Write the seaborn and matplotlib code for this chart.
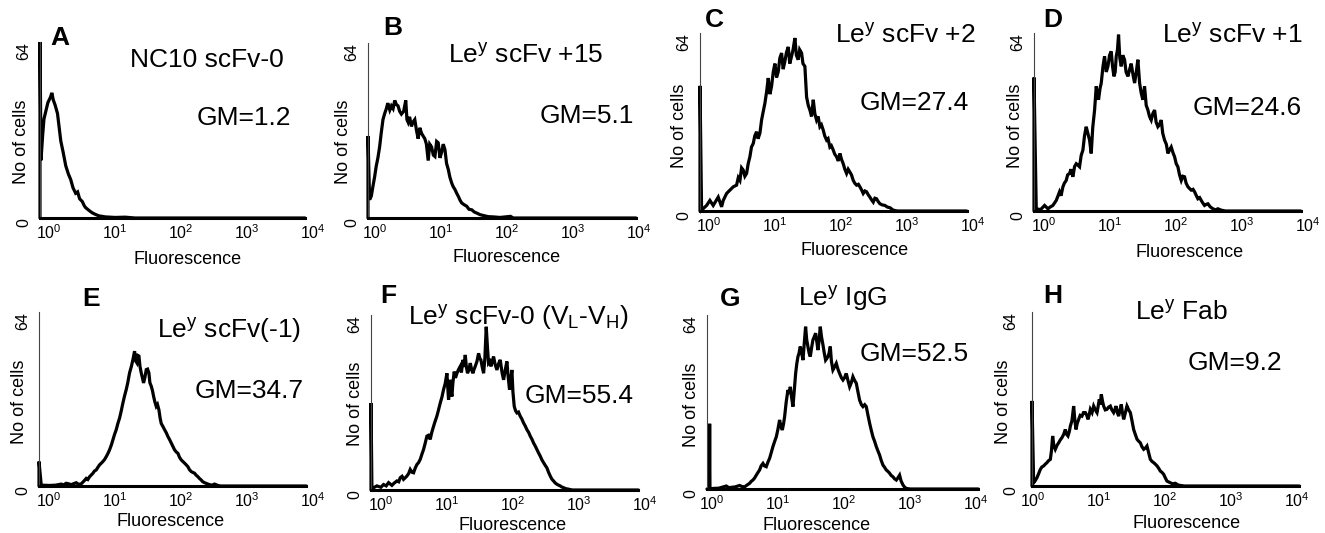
import numpy as np
import pandas as pd
import matplotlib
matplotlib.use("Agg")
import matplotlib.pyplot as plt
import seaborn as sns
from matplotlib.ticker import LogLocator, NullFormatter, FixedLocator

# ---------------- data (log10 fluorescence channel position, cell counts) ----------------
panel_letters = ["A", "B", "C", "D", "E", "F", "G", "H"]
panel_titles = [
    "NC10 scFv-0",
    r"Le$^{\mathdefault{y}}$ scFv +15",
    r"Le$^{\mathdefault{y}}$ scFv +2",
    r"Le$^{\mathdefault{y}}$ scFv +1",
    r"Le$^{\mathdefault{y}}$ scFv(-1)",
    r"Le$^{\mathdefault{y}}$ scFv-0 (V$_{\mathdefault{L}}$-V$_{\mathdefault{H}}$)",
    r"Le$^{\mathdefault{y}}$ IgG",
    r"Le$^{\mathdefault{y}}$ Fab",
]
gm_labels = ["GM=1.2", "GM=5.1", "GM=27.4", "GM=24.6", "GM=34.7", "GM=55.4", "GM=52.5", "GM=9.2"]
x_tick_decades = [0, 1, 2, 3, 4]
y_tick_values = [0, 64]
y_tick_labels = ["0", "64"]

a_decade = [-0.14, -0.14, -0.125, -0.10, -0.08, -0.05, -0.02, 0.02, 0.04, 0.06,
            0.09, 0.125, 0.15, 0.175, 0.21, 0.25, 0.29, 0.325, 0.36, 0.40,
            0.43, 0.46, 0.50, 0.53, 0.55, 0.60, 0.65, 0.70, 0.75, 0.85,
            1.00, 1.15, 1.30, 3.875]
a_count = [0, 64, 21, 30, 36, 39, 42, 44, 45.5, 43,
           41, 38, 33, 28, 24, 19, 16, 14, 11, 9,
           9.5, 7, 6, 4.5, 3.8, 2.8, 1.9, 1.3, 0.8, 0.4,
           0.2, 0.3, 0, 0]

b_decade = [-0.10, -0.10, -0.076, -0.05, -0.025, 0.0, 0.025, 0.05, 0.076, 0.10,
            0.127, 0.15, 0.178, 0.20, 0.23, 0.254, 0.28, 0.305, 0.33, 0.355,
            0.38, 0.406, 0.44, 0.472, 0.49, 0.508, 0.53, 0.558, 0.58, 0.609,
            0.635, 0.66, 0.685, 0.711, 0.735, 0.761, 0.785, 0.812, 0.835, 0.863,
            0.89, 0.914, 0.94, 0.964, 0.99, 1.015, 1.04, 1.066, 1.09, 1.117,
            1.14, 1.168, 1.19, 1.218, 1.245, 1.269, 1.295, 1.32, 1.36, 1.396,
            1.43, 1.472, 1.51, 1.548, 1.60, 1.65, 1.72, 1.80, 1.90, 2.06,
            2.10, 3.96]
b_count = [0, 30, 6.7, 8, 11.6, 15, 19, 22, 26, 31,
           36, 38, 40, 42, 39.5, 41, 40, 43, 41.5, 41,
           39, 38, 39, 43, 36, 35, 37, 33.5, 35, 36,
           32, 29, 33, 31, 30, 29, 27, 21, 27, 26,
           23, 22.5, 28, 27.5, 22, 24, 27, 25, 20, 17.7,
           15, 12.8, 11.5, 10.4, 9, 7.9, 6.5, 5.5, 4.8, 4.3,
           3.2, 3, 2.2, 1.8, 1.2, 0.9, 0.5, 0.4, 0.2, 0.6,
           0, 0]

c_decade = [-0.14, -0.14, -0.116, -0.04, 0.01, 0.06, 0.136, 0.187, 0.212, 0.263,
            0.313, 0.364, 0.414, 0.44, 0.465, 0.49, 0.515, 0.54, 0.566, 0.59,
            0.616, 0.64, 0.667, 0.69, 0.717, 0.74, 0.768, 0.793, 0.82, 0.843,
            0.87, 0.894, 0.92, 0.944, 0.97, 0.995, 1.02, 1.045, 1.07, 1.096,
            1.12, 1.146, 1.17, 1.197, 1.22, 1.247, 1.27, 1.298, 1.32, 1.348,
            1.37, 1.399, 1.42, 1.449, 1.475, 1.50, 1.525, 1.55, 1.576, 1.60,
            1.626, 1.65, 1.677, 1.70, 1.727, 1.75, 1.778, 1.80, 1.828, 1.85,
            1.879, 1.90, 1.929, 1.955, 1.98, 2.005, 2.03, 2.055, 2.081, 2.105,
            2.131, 2.155, 2.182, 2.205, 2.232, 2.26, 2.283, 2.31, 2.333, 2.36,
            2.384, 2.41, 2.434, 2.46, 2.485, 2.51, 2.535, 2.56, 2.586, 2.62,
            2.662, 2.70, 2.737, 2.788, 2.85, 3.90]
c_count = [0, 45, 0.3, 2, 3.8, 2, 5, 1.5, 3.8, 6.3,
           7.5, 8.7, 9.3, 12, 11, 15.5, 14.7, 12.5, 13.5, 17,
           19.5, 23, 24.3, 27, 28.5, 26, 28, 32.7, 36, 38.7,
           43, 47.8, 42, 44.8, 50, 53, 48, 50, 55, 56.8,
           51, 53.8, 57, 59, 53, 55.6, 58, 62.2, 56, 54.4,
           58, 56.8, 53, 52, 41, 38, 36.3, 34, 40, 35,
           32.7, 34, 30.3, 31, 29.1, 27, 25.5, 26, 23, 23.5,
           21.9, 20.5, 19.5, 18, 20.7, 18.5, 17, 15, 13.5, 15,
           14, 13, 11, 10, 9.3, 9.6, 8.7, 7.5, 6.3, 7.2,
           6.9, 5.8, 5, 4, 3.2, 4.6, 4.4, 3.4, 2.6, 2.2,
           2, 1.4, 1.2, 0.3, 0, 0]

d_decade = [-0.15, -0.15, -0.116, -0.05, 0.01, 0.061, 0.10, 0.136, 0.187, 0.237,
            0.26, 0.288, 0.31, 0.338, 0.36, 0.389, 0.41, 0.439, 0.465, 0.49,
            0.515, 0.54, 0.565, 0.591, 0.615, 0.641, 0.665, 0.692, 0.717, 0.74,
            0.768, 0.793, 0.81, 0.828, 0.85, 0.869, 0.895, 0.919, 0.945, 0.97,
            0.995, 1.02, 1.04, 1.061, 1.08, 1.096, 1.115, 1.131, 1.15, 1.172,
            1.195, 1.222, 1.245, 1.273, 1.30, 1.323, 1.35, 1.374, 1.40, 1.424,
            1.45, 1.475, 1.50, 1.525, 1.55, 1.576, 1.60, 1.626, 1.65, 1.677,
            1.70, 1.727, 1.75, 1.778, 1.80, 1.828, 1.855, 1.879, 1.905, 1.929,
            1.955, 1.98, 2.005, 2.03, 2.055, 2.081, 2.105, 2.131, 2.155, 2.182,
            2.21, 2.232, 2.26, 2.283, 2.31, 2.333, 2.36, 2.384, 2.41, 2.434,
            2.46, 2.485, 2.52, 2.561, 2.60, 2.636, 2.687, 2.75, 3.89]
d_count = [0, 48, 0.8, 0.5, 2, 0.8, 1.5, 2, 3.8, 6.9,
           5.5, 8.7, 10, 11, 13, 13.5, 15, 12.3, 16, 17,
           16.5, 15.9, 20, 21.9, 27, 30.3, 28, 25.5, 20.7, 30,
           36.3, 44.8, 42, 40, 44, 46, 52, 55.6, 50, 52,
           56, 57.4, 52, 48.4, 50, 55.6, 58, 63.4, 55, 52,
           56, 54.4, 50, 48.4, 51, 53, 49, 46, 50, 54.4,
           46, 42.3, 40, 44.8, 38, 36.3, 34, 32.7, 35, 36.3,
           32, 30.3, 31, 32.7, 28, 25.5, 24, 20.7, 22, 23,
           21, 19.5, 17, 15.9, 13, 11, 12.5, 12.3, 10, 8.7,
           8, 7.5, 7.8, 6.9, 5.5, 4.4, 4.8, 3.8, 2.8, 2,
           2.4, 2.6, 1.5, 0.8, 0.4, 0.8, 0.3, 0, 0]

e_decade = [-0.15, -0.15, -0.116, 0.01, 0.10, 0.187, 0.22, 0.263, 0.30, 0.338,
            0.38, 0.414, 0.45, 0.49, 0.53, 0.566, 0.59, 0.616, 0.64, 0.667,
            0.69, 0.717, 0.74, 0.768, 0.79, 0.818, 0.845, 0.869, 0.895, 0.919,
            0.945, 0.97, 0.995, 1.02, 1.045, 1.071, 1.095, 1.121, 1.145, 1.172,
            1.195, 1.222, 1.25, 1.273, 1.298, 1.315, 1.333, 1.35, 1.364, 1.38,
            1.399, 1.415, 1.434, 1.455, 1.475, 1.495, 1.515, 1.53, 1.551, 1.57,
            1.586, 1.605, 1.626, 1.645, 1.667, 1.685, 1.702, 1.725, 1.753, 1.78,
            1.803, 1.83, 1.854, 1.88, 1.904, 1.93, 1.955, 1.98, 2.005, 2.03,
            2.056, 2.08, 2.106, 2.13, 2.157, 2.18, 2.207, 2.23, 2.258, 2.28,
            2.308, 2.33, 2.359, 2.40, 2.434, 2.47, 2.51, 2.561, 2.60, 3.90]
e_count = [0, 9, 0.3, 0.2, 0.3, 0.7, 0.4, 1, 0.8, 0.5,
           0.9, 1.2, 0.6, 0.8, 1.8, 2.8, 2.4, 3.4, 4, 4.7,
           5.5, 5.9, 6.8, 7.8, 8.3, 9, 9.8, 10.8, 12, 13.3,
           15, 17, 19, 20.7, 23, 25, 27.5, 30.5, 33, 35.5,
           38, 41.6, 44, 46.5, 49.6, 46, 45.3, 48, 47.8, 44,
           41.6, 40, 37.9, 40, 42.8, 43, 41.6, 38, 36.7, 35,
           33, 31, 29.3, 30, 28, 25, 23, 22, 20.7, 19.5,
           18.2, 17, 15.8, 14.5, 13.3, 12.5, 12, 10.5, 9.6, 9,
           8.4, 7.8, 7.1, 6, 5.3, 5, 4.7, 4, 3.4, 2.8,
           2.2, 1.6, 1.2, 0.8, 0.5, 0.3, 0.7, 0.2, 0, 0]

f_decade = [-0.15, -0.15, -0.136, -0.061, 0.0, 0.04, 0.08, 0.116, 0.167, 0.20,
            0.242, 0.27, 0.293, 0.32, 0.343, 0.37, 0.394, 0.42, 0.444, 0.47,
            0.495, 0.52, 0.545, 0.57, 0.596, 0.62, 0.646, 0.67, 0.697, 0.72,
            0.747, 0.77, 0.798, 0.82, 0.848, 0.87, 0.899, 0.925, 0.949, 0.975,
            1.0, 1.012, 1.025, 1.04, 1.051, 1.065, 1.076, 1.09, 1.111, 1.13,
            1.152, 1.175, 1.202, 1.22, 1.242, 1.26, 1.278, 1.295, 1.313, 1.333,
            1.354, 1.375, 1.394, 1.41, 1.429, 1.455, 1.48, 1.50, 1.515, 1.535,
            1.556, 1.575, 1.596, 1.615, 1.631, 1.65, 1.667, 1.685, 1.707, 1.73,
            1.758, 1.78, 1.808, 1.835, 1.859, 1.885, 1.909, 1.93, 1.949, 1.965,
            1.985, 2.0, 2.02, 2.04, 2.061, 2.085, 2.111, 2.135, 2.162, 2.185,
            2.212, 2.24, 2.263, 2.29, 2.313, 2.34, 2.364, 2.39, 2.414, 2.44,
            2.465, 2.49, 2.515, 2.54, 2.566, 2.59, 2.616, 2.64, 2.667, 2.69,
            2.717, 2.74, 2.768, 2.80, 2.843, 2.90, 3.90]
f_count = [0, 31.8, 0.5, 1.5, 1, 2, 1.5, 2.7, 1.7, 2.5,
           3.3, 3, 4.5, 5, 3.9, 4.5, 5.1, 6, 7.5, 6.5,
           6.3, 8, 9.3, 10, 11.2, 13, 14.8, 17, 19.7, 20,
           18.5, 21, 23.3, 25, 27, 29, 31.8, 34, 36.7, 39,
           42.7, 38, 33, 37, 40.3, 36, 34.2, 39, 43.3, 41,
           42.7, 44, 45.2, 43, 47.6, 45, 49.4, 45, 42.7, 44,
           46.4, 44, 42.7, 44, 45.2, 47, 50, 48, 47.6, 45,
           42.7, 48, 59.7, 52, 46.4, 47, 45.2, 47, 48.8, 46,
           43.9, 46, 47.6, 43, 40.3, 44, 47, 41, 36.7, 40,
           43.9, 36, 30.6, 29, 28.2, 28.5, 27, 26, 24.5, 23.5,
           22.1, 21, 19.7, 18.5, 17.2, 16, 14.8, 13.5, 12.4, 11,
           10, 9, 8.1, 6.5, 5.1, 4, 3.3, 2.6, 2.1, 1.8,
           1.5, 1.1, 0.85, 0.5, 0.3, 0, 0]

g_decade = [-0.08, -0.045, -0.04, -0.035, 0.01, 0.10, 0.212, 0.25, 0.288, 0.35,
            0.414, 0.45, 0.49, 0.53, 0.566, 0.59, 0.616, 0.64, 0.667, 0.69,
            0.717, 0.74, 0.768, 0.79, 0.818, 0.845, 0.869, 0.895, 0.919, 0.945,
            0.97, 0.995, 1.02, 1.04, 1.061, 1.08, 1.096, 1.12, 1.146, 1.165,
            1.182, 1.20, 1.222, 1.245, 1.263, 1.28, 1.298, 1.315, 1.333, 1.355,
            1.374, 1.395, 1.414, 1.43, 1.449, 1.467, 1.485, 1.505, 1.525, 1.545,
            1.566, 1.585, 1.601, 1.62, 1.636, 1.655, 1.677, 1.697, 1.717, 1.735,
            1.753, 1.77, 1.788, 1.805, 1.828, 1.855, 1.879, 1.905, 1.929, 1.955,
            1.98, 2.005, 2.03, 2.055, 2.081, 2.105, 2.131, 2.155, 2.182, 2.205,
            2.232, 2.26, 2.283, 2.31, 2.333, 2.36, 2.384, 2.41, 2.434, 2.46,
            2.485, 2.51, 2.535, 2.56, 2.586, 2.61, 2.636, 2.66, 2.687, 2.71,
            2.737, 2.76, 2.788, 2.81, 2.838, 2.86, 2.889, 2.91, 2.939, 3.0,
            4.03]
g_count = [0, 0, 24, 0, 0.2, 0.3, 1.1, 0.5, 0.6, 0.8,
           1.3, 0.9, 0.8, 1.5, 2.1, 2.8, 3.3, 4, 5.1, 6,
           7, 8.5, 9.4, 8.5, 8.2, 10, 11.3, 13.5, 15.6, 17.5,
           19.2, 22, 25.4, 23, 21.7, 24, 26.6, 32, 36.4, 35,
           37.6, 34, 30.3, 37, 42.5, 46, 48.7, 50, 52.4, 50,
           47.4, 54, 59.7, 55, 52.4, 50, 48.7, 52, 54.8, 56,
           57.3, 54, 51.1, 55, 59.7, 56, 53, 50, 47.4, 48,
           48.7, 50, 52.4, 47, 43.8, 45, 46.2, 44, 42.5, 41,
           40.1, 41, 42.5, 40, 37.6, 39, 41.3, 40, 38.9, 36,
           32.7, 31, 30.3, 31, 30.3, 27, 24.2, 21.5, 19.2, 17.5,
           15.6, 14, 12.5, 10.5, 8.8, 8, 7, 6.5, 5.8, 5,
           4.5, 3.8, 3.3, 4, 5.1, 3, 1.5, 0.8, 0.2, 0,
           0]

h_decade = [-0.01, -0.01, 0.015, 0.04, 0.066, 0.09, 0.116, 0.14, 0.167, 0.19,
            0.217, 0.24, 0.268, 0.285, 0.303, 0.32, 0.343, 0.37, 0.394, 0.42,
            0.444, 0.47, 0.495, 0.515, 0.535, 0.555, 0.571, 0.595, 0.621, 0.64,
            0.657, 0.675, 0.697, 0.72, 0.747, 0.77, 0.798, 0.82, 0.838, 0.855,
            0.874, 0.90, 0.924, 0.95, 0.975, 0.99, 1.01, 1.025, 1.04, 1.06,
            1.076, 1.10, 1.126, 1.15, 1.177, 1.20, 1.227, 1.245, 1.263, 1.283,
            1.303, 1.323, 1.343, 1.36, 1.379, 1.405, 1.429, 1.455, 1.48, 1.505,
            1.53, 1.555, 1.581, 1.605, 1.631, 1.655, 1.682, 1.71, 1.732, 1.76,
            1.783, 1.81, 1.833, 1.86, 1.884, 1.91, 1.934, 1.96, 1.985, 2.01,
            2.035, 2.06, 2.086, 2.12, 2.162, 2.20, 2.237, 2.30, 4.04]
h_count = [0, 31.3, 1.2, 2, 3.1, 4.5, 6.1, 7, 7.4, 8,
           8.6, 9.3, 9.8, 13, 18.4, 15, 13.5, 15, 15.9, 17,
           17.8, 19, 20.8, 19, 18.4, 20, 22, 24, 29.4, 24,
           20.8, 23, 24.5, 26, 25.7, 27, 27, 26, 24.5, 26,
           28.2, 27, 29.4, 28, 27, 29, 31.9, 30, 33.7, 31,
           29.4, 28, 28.2, 29, 29.4, 28, 27, 28, 29.4, 27,
           25.7, 28, 30, 27, 24.5, 27, 29.4, 28, 27, 24,
           20.8, 19, 17.2, 16.5, 15.9, 14.5, 13.5, 14, 14.7, 12,
           9.8, 9, 8.6, 8, 7.4, 6.5, 5.5, 5, 4.3, 3,
           1.8, 1.5, 1.2, 0.8, 1, 0.4, 0.2, 0, 0]

decades = [a_decade, b_decade, c_decade, d_decade, e_decade, f_decade, g_decade, h_decade]
counts = [a_count, b_count, c_count, d_count, e_count, f_count, g_count, h_count]

# ---------------- layout (pixels in a 1325x533 canvas) ----------------
W, H = 1325, 533
DEC_PX = 66.0
# left, top, bottom, xmin (decades), spine end (decades), y tick label pad
axes_geom = [
    (40, 42, 218, -0.14, 3.875, 6),
    (368, 43, 218, -0.10, 3.96, 6),
    (700, 33, 211, -0.14, 3.90, 6),
    (1034, 33, 211, -0.15, 3.89, 6),
    (39, 312, 486, -0.15, 3.90, 6),
    (371, 315, 490, -0.15, 3.90, 6),
    (707, 315, 489, -0.08, 4.03, 6),
    (1032, 312, 486, -0.01, 4.04, 10),
]
letter_xy = [(50, 45), (383, 35), (705, 27), (1043, 27), (82, 306), (380, 303), (720, 306), (1043, 303)]
title_xy = [(130, 67), (448, 63), (835, 43), (1162, 43), (157, 338), (408, 325), (798, 306), (1135, 320)]
gm_xy = [(197, 125), (540, 123), (860, 110), (1193, 115), (195, 398), (525, 403), (860, 361), (1188, 370)]
ylabel_xy = [(22, 142), (343, 142), (680, 126), (1015, 126), (20, 402), (355, 404), (692, 405), (1003, 402)]
xlabel_xy = [(188, 260), (507, 257), (855, 250), (1190, 252), (171, 521), (513, 526), (817, 526), (1187, 524)]

sns.set_theme(style="white")
plt.rcParams["font.family"] = ["Liberation Sans", "DejaVu Sans"]
plt.rcParams["mathtext.fontset"] = "custom"
plt.rcParams["mathtext.rm"] = "Liberation Sans"
plt.rcParams["mathtext.it"] = "Liberation Sans:italic"
plt.rcParams["mathtext.bf"] = "Liberation Sans:bold"

fig = plt.figure(figsize=(W / 100, H / 100), dpi=100)
fig.patch.set_facecolor("white")

for i in range(8):
    left, top, bottom, xmin, spine_end, ypad = axes_geom[i]
    xmax = max(4.0, spine_end)
    width = (xmax - xmin) * DEC_PX
    ax = fig.add_axes([left / W, 1 - bottom / H, width / W, (bottom - top) / H])
    ax.set_facecolor("white")
    df = pd.DataFrame({"Fluorescence": np.power(10.0, decades[i]), "No of cells": counts[i]})
    sns.lineplot(data=df, x="Fluorescence", y="No of cells", estimator=None, sort=False,
                 color="black", linewidth=2.3, ax=ax)
    for ln in ax.get_lines():
        ln.set_clip_on(False)
        ln.set_solid_joinstyle("miter")
    ax.set_xscale("log")
    ax.set_xlim(10 ** xmin, 10 ** xmax)
    ax.set_ylim(0, 64)

    ax.xaxis.set_major_locator(FixedLocator([10.0 ** d for d in x_tick_decades]))
    ax.xaxis.set_minor_locator(LogLocator(base=10, subs=np.arange(2, 10)))
    ax.xaxis.set_minor_formatter(NullFormatter())
    ax.tick_params(axis="x", which="major", labelsize=11.5, length=3, width=0.8,
                   direction="inout", pad=2, colors="black")
    ax.tick_params(axis="x", which="minor", length=2.5, width=0.6, direction="inout", colors="black")

    ax.set_yticks(y_tick_values)
    ax.set_yticklabels(y_tick_labels, rotation=90, va="top")
    ax.yaxis.set_minor_locator(FixedLocator([16, 32, 48]))
    ax.tick_params(axis="y", which="major", labelsize=11.5, length=0, pad=ypad, colors="black")
    ax.tick_params(axis="y", which="minor", length=3, width=0.7, direction="out", colors="#444444")

    for s in ("top", "right"):
        ax.spines[s].set_visible(False)
    ax.spines["left"].set_linewidth(0.8)
    ax.spines["left"].set_color("#444444")
    ax.spines["bottom"].set_linewidth(2.2)
    ax.spines["bottom"].set_color("black")
    ax.spines["bottom"].set_bounds(10 ** xmin, 10 ** spine_end)

    ax.set_xlabel("Fluorescence", fontsize=13, color="black")
    ax.set_ylabel("No of cells", fontsize=13, color="black")
    ax.xaxis.label.set_va("center")
    ax.yaxis.label.set_va("center")
    axh = bottom - top
    xl, yl = xlabel_xy[i]
    ax.xaxis.set_label_coords((xl - left) / width, -(yl - bottom) / axh)
    yx, yy = ylabel_xy[i]
    ax.yaxis.set_label_coords((yx - left) / width, (bottom - yy) / axh)

    lx, ly = letter_xy[i]
    fig.text(lx / W, 1 - ly / H, panel_letters[i], fontsize=19, fontweight="bold",
             ha="left", va="baseline", color="black")
    tx, ty = title_xy[i]
    fig.text(tx / W, 1 - ty / H, panel_titles[i], fontsize=19, ha="left", va="baseline", color="black")
    gx, gy = gm_xy[i]
    fig.text(gx / W, 1 - gy / H, gm_labels[i], fontsize=19, ha="left", va="baseline", color="black")

fig.savefig("out.png", dpi=100, facecolor="white")
